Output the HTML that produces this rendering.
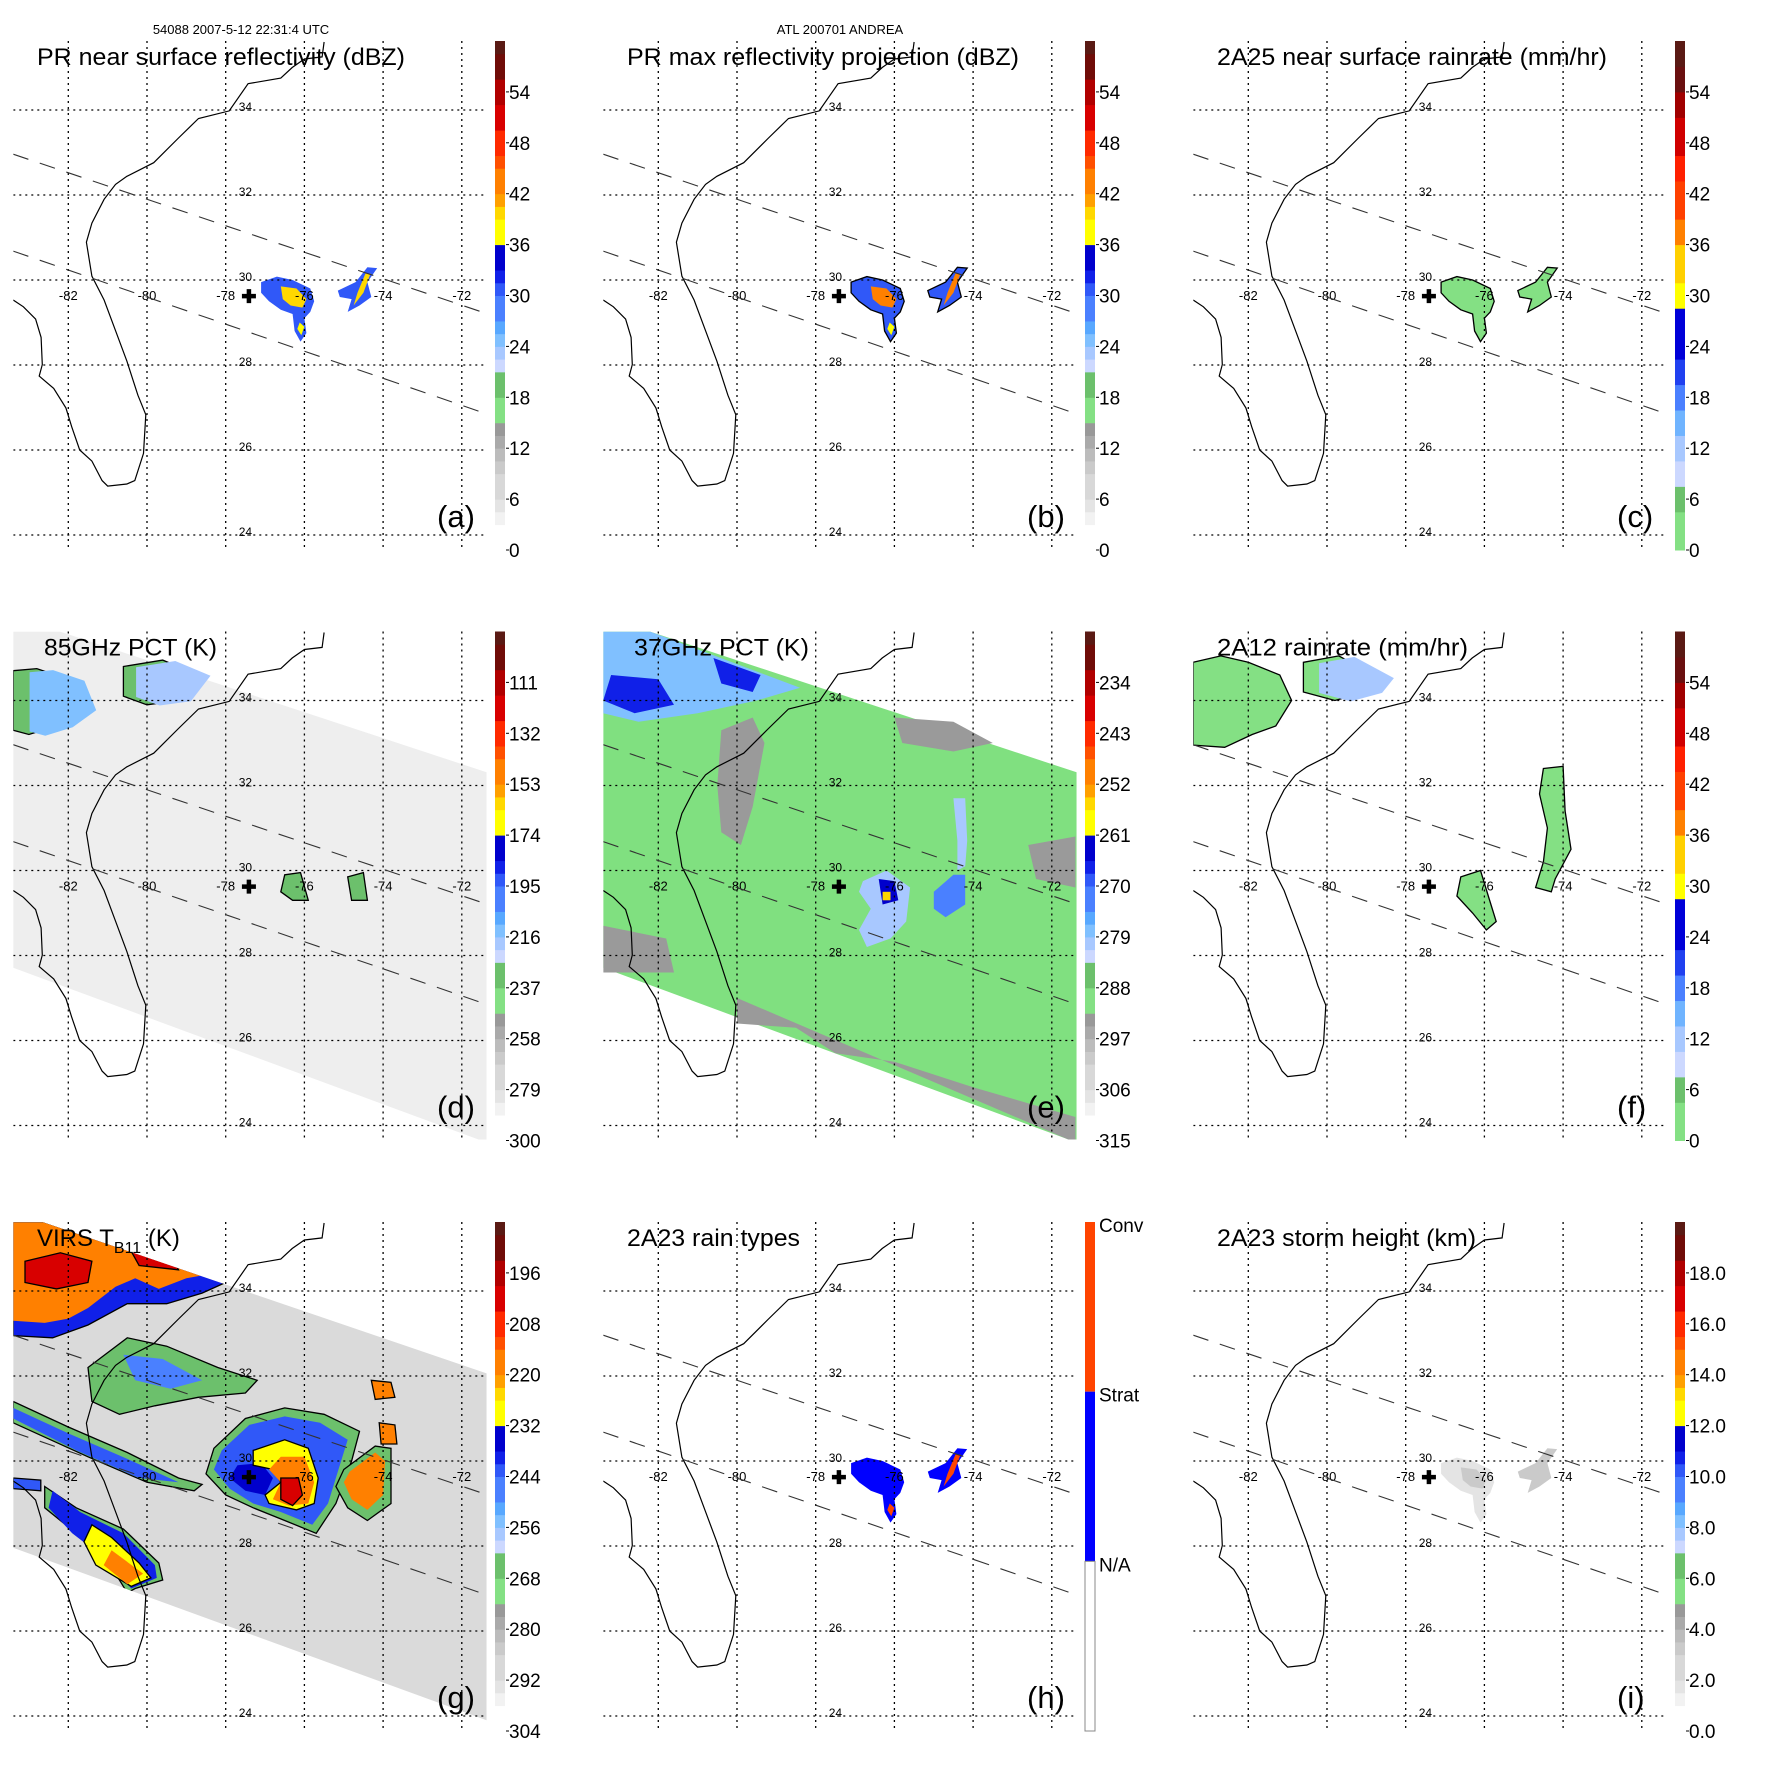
<!DOCTYPE html>
<html><head><meta charset="utf-8">
<style>
html,body{margin:0;padding:0;background:#fff;}
svg{display:block;font-family:"Liberation Sans",Arial,sans-serif;}
</style></head>
<body>
<svg id="chart" width="1771" height="1771" viewBox="0 0 1771 1771" xmlns="http://www.w3.org/2000/svg">
<text x="241" y="34" font-size="13" text-anchor="middle">54088 2007-5-12 22:31:4 UTC</text>
<text x="840" y="34" font-size="13" text-anchor="middle">ATL 200701 ANDREA</text>
</svg>
<script>
// ---- map data (lon/lat) ----
const coastLon=[-75.5,-75.55,-76.0,-76.31,-76.6,-77.43,-77.91,-78.69,-79.2,-79.83,-80.51,-80.8,-81.09,-81.4,-81.54,-81.4,-81.09,-80.8,-80.51,-80.23,-80.03,-80.09,-80.31,-80.51,-81.0,-81.14,-81.4,-81.71,-81.91,-82.06,-82.37,-82.74,-82.66,-82.69,-82.83,-83.14,-83.4];
const coastLat=[35.6,35.25,35.2,35.0,34.75,34.62,33.98,33.8,33.34,32.76,32.44,32.25,31.9,31.34,30.89,30.09,29.53,28.81,28.09,27.29,26.83,25.92,25.28,25.2,25.15,25.28,25.74,26.0,26.54,26.99,27.45,27.74,28.01,28.65,29.08,29.37,29.53];
const prTopLon=[-83.4,-71.37], prTopLat=[32.96,29.21];
const prBotLon=[-83.4,-71.37], prBotLat=[30.68,26.85];
const tmiLon=[-83.4,-82.2,-71.37,-71.37,-83.4], tmiLat=[35.62,35.62,32.31,23.6,27.71];
const irLon=[-83.4,-82.64,-71.37,-71.37,-83.4], irLat=[35.62,35.62,32.06,23.9,27.96];
const centerLon=-77.41, centerLat=29.62;
const gridLons=[-82,-80,-78,-76,-74,-72], gridLats=[24,26,28,30,32,34];
// PR rain cells
const prCell1Lon=[-77.1,-76.7,-76.3,-75.85,-75.75,-75.85,-76.0,-75.95,-76.1,-76.25,-76.3,-76.6,-76.9,-77.1];
const prCell1Lat=[29.95,30.08,30.0,29.8,29.5,29.25,29.1,28.75,28.55,28.8,29.2,29.3,29.5,29.7];
const prCell2Lon=[-75.15,-74.7,-74.4,-74.15,-74.4,-74.3,-74.6,-74.9,-74.8,-75.1];
const prCell2Lat=[29.75,29.95,30.3,30.28,29.95,29.6,29.4,29.25,29.55,29.6];
const prCore1Lon=[-76.6,-76.2,-75.95,-76.05,-76.35,-76.55], prCore1Lat=[29.85,29.8,29.55,29.35,29.4,29.55];
const prTailLon=[-76.12,-76.0,-76.08,-76.18], prTailLat=[29.0,28.9,28.7,28.85];
const prCore2Lon=[-74.45,-74.32,-74.5,-74.75,-74.65], prCore2Lat=[30.15,30.15,29.7,29.4,29.7];
// 85GHz cells
const d1Lon=[-83.4,-82.8,-82.0,-81.7,-82.3,-83.0,-83.4], d1Lat=[34.7,34.75,34.5,33.8,33.4,33.2,33.3];
const d2Lon=[-80.6,-79.6,-78.7,-79.2,-80.0,-80.6], d2Lat=[34.8,34.95,34.6,34.0,33.9,34.1];
const d3Lon=[-76.5,-76.1,-75.9,-76.3,-76.6], d3Lat=[29.9,29.95,29.3,29.3,29.5];
const d4Lon=[-74.9,-74.5,-74.4,-74.8], d4Lat=[29.85,29.95,29.3,29.3];
// 37GHz
const eBlueLon=[-83.4,-82.2,-78.4,-79.5,-81,-82.5,-83.4], eBlueLat=[35.62,35.62,34.3,34.0,33.7,33.5,33.7];
const eDark1Lon=[-83.2,-82.0,-81.6,-82.6,-83.4], eDark1Lat=[34.6,34.5,33.9,33.7,34.0];
const eDark2Lon=[-80.6,-79.4,-79.6,-80.4], eDark2Lat=[35.0,34.6,34.2,34.4];
const eGray1Lon=[-80.4,-79.6,-79.3,-79.6,-79.9,-80.4,-80.5], eGray1Lat=[33.3,33.6,33.0,31.5,30.6,30.9,32.0];
const eGray2Lon=[-76,-74.5,-73.5,-74.5,-75.8], eGray2Lat=[33.6,33.5,33.0,32.8,33.0];
const eGray3Lon=[-80,-78.5,-77.5,-76,-74,-71.4,-71.4,-80], eGray3Lat=[26.4,26.3,25.7,25.5,24.9,24.2,23.6,27.0];
const eGray4Lon=[-83.4,-81.8,-81.6,-83.4], eGray4Lat=[28.7,28.4,27.6,27.6];
const eGray5Lon=[-72.6,-71.4,-71.4,-72.4], eGray5Lat=[30.6,30.8,29.6,29.8];
const eStormLon=[-76.8,-76.2,-75.6,-75.7,-76.1,-76.7,-76.9,-76.6,-76.9], eStormLat=[29.75,30.0,29.6,28.8,28.4,28.2,28.6,29.1,29.5];
const eCoreLon=[-76.4,-76.0,-75.9,-76.3], eCoreLat=[29.8,29.75,29.3,29.2];
const eHotLon=[-76.3,-76.1,-76.1,-76.3], eHotLat=[29.5,29.5,29.3,29.3];
const eCell2Lon=[-75.0,-74.5,-74.2,-74.2,-74.7,-75.0], eCell2Lat=[29.5,29.9,29.9,29.2,28.9,29.1];
const eStreakLon=[-74.5,-74.2,-74.15,-74.2,-74.4,-74.4], eStreakLat=[31.7,31.7,30.7,30.1,30.0,30.7];
// 2A12
const f1Lon=[-83.4,-82.7,-82.0,-81.2,-80.9,-81.3,-81.9,-82.6,-83.4], f1Lat=[34.9,35.05,34.9,34.6,34.0,33.4,33.2,32.9,32.95];
const f2Lon=[-80.6,-79.7,-78.7,-79.0,-79.8,-80.6], f2Lat=[34.9,35.05,34.55,34.2,34.0,34.2];
const f3Lon=[-76.6,-76.1,-75.9,-75.7,-75.95,-76.3,-76.7], f3Lat=[29.85,30.0,29.4,28.8,28.6,29.0,29.4];
const f4Lon=[-74.5,-74.0,-73.95,-73.8,-74.2,-74.3,-74.7,-74.5,-74.4,-74.6], f4Lat=[32.4,32.45,31.4,30.5,29.8,29.5,29.6,30.2,31.0,31.8];
// VIRS IR
const gTopBlueLon=[-83.4,-82.64,-78.0,-78.6,-79.5,-80.5,-81.5,-82.4,-83.4], gTopBlueLat=[35.62,35.62,34.2,33.95,33.7,33.7,33.2,32.9,32.95];
const gTopOrLon=[-83.4,-82.64,-78.5,-79.0,-79.7,-80.3,-80.8,-81.5,-82.0,-82.6,-83.4], gTopOrLat=[35.62,35.62,34.38,34.3,34.05,34.3,34.1,33.6,33.35,33.25,33.3];
const gTopRed1Lon=[-83.1,-82.2,-81.4,-81.5,-82.3,-83.1], gTopRed1Lat=[34.7,34.9,34.7,34.2,34.05,34.2];
const gTopRed2Lon=[-80.5,-79.3,-79.2,-80.2], gTopRed2Lat=[35.1,34.7,34.5,34.6];
const gStreakGLon=[-83.4,-82.0,-80.5,-79.2,-78.6,-78.8,-80.0,-81.5,-83.4], gStreakGLat=[31.4,30.8,30.2,29.6,29.45,29.3,29.5,30.1,30.9];
const gStreakBLon=[-83.4,-82.0,-80.5,-79.2,-80.2,-81.8,-83.4], gStreakBLat=[31.25,30.65,30.05,29.5,29.6,30.25,31.0];
const gNorthLon=[-81.5,-80.5,-79.5,-78.2,-77.2,-77.5,-78.7,-79.8,-80.7,-81.4], gNorthLat=[32.2,32.9,32.7,32.2,31.9,31.6,31.5,31.3,31.1,31.4];
const gNorthBLon=[-80.6,-79.6,-78.6,-79.4,-80.3], gNorthBLat=[32.5,32.4,31.9,31.7,31.9];
const gRingGLon=[-78.3,-77.5,-76.5,-75.5,-74.6,-74.8,-75.2,-75.7,-76.5,-77.3,-78.0,-78.5], gRingGLat=[30.3,31.0,31.25,31.1,30.7,30.0,29.0,28.3,28.6,28.9,29.2,29.7];
const gRingBLon=[-78.1,-77.4,-76.5,-75.6,-74.9,-75.1,-75.4,-75.8,-76.6,-77.3,-77.9,-78.3], gRingBLat=[30.25,30.85,31.05,30.9,30.5,29.9,29.0,28.5,28.8,29.0,29.35,29.8];
const gEyeLon=[-77.7,-77.1,-76.8,-77.0,-77.5,-77.9], gEyeLat=[29.9,29.95,29.6,29.2,29.3,29.6];
const gYelLon=[-77.3,-76.5,-75.9,-75.65,-75.75,-76.2,-76.9,-77.0,-76.6,-76.8,-77.3], gYelLat=[30.25,30.5,30.3,29.6,29.0,28.85,29.0,29.2,29.5,29.8,29.9];
const gOrLon=[-76.6,-76.0,-75.75,-75.9,-76.4,-76.8,-76.6,-76.9], gOrLat=[30.1,30.1,29.5,29.0,28.95,29.1,29.5,29.8];
const gCoreLon=[-76.6,-76.15,-76.05,-76.3,-76.6], gCoreLat=[29.6,29.6,29.2,28.95,29.1];
const gEastGLon=[-75.0,-74.2,-73.8,-73.8,-74.4,-74.9,-75.2], gEastGLat=[29.8,30.35,30.3,29.0,28.6,28.9,29.4];
const gEastOLon=[-74.85,-74.2,-73.95,-74.0,-74.4,-74.8,-75.0], gEastOLat=[29.75,30.2,30.0,29.2,28.85,29.1,29.5];
const gSm1Lon=[-74.3,-73.8,-73.7,-74.2], gSm1Lat=[31.9,31.85,31.5,31.45];
const gSm2Lon=[-74.1,-73.7,-73.65,-74.05], gSm2Lat=[30.9,30.85,30.4,30.4];
const gSwGLon=[-82.6,-81.8,-80.6,-79.7,-79.6,-80.3,-80.5,-81.1,-81.8,-82.6], gSwGLat=[29.4,28.9,28.4,27.6,27.2,27.0,26.9,27.8,28.3,28.9];
const gSwBLon=[-82.4,-81.7,-80.6,-79.8,-79.75,-80.4,-81.2,-81.9,-82.5], gSwBLat=[29.3,28.8,28.3,27.55,27.25,27.0,27.8,28.3,28.9];
const gSwYLon=[-81.4,-80.9,-80.2,-79.9,-80.4,-81.3,-81.6], gSwYLat=[28.5,28.2,27.6,27.25,27.05,27.55,28.1];
const gSwOLon=[-80.9,-80.1,-80.5,-81.1], gSwOLat=[27.9,27.35,27.1,27.55];
const gLeftLon=[-83.4,-82.7,-82.7,-83.4], gLeftLat=[29.6,29.55,29.3,29.35];
// colorbar tick labels
const ticksDbz=['0','6','12','18','24','30','36','42','48','54'];
const ticks85=['300','279','258','237','216','195','174','153','132','111'];
const ticks37=['315','306','297','288','279','270','261','252','243','234'];
const ticksIR=['304','292','280','268','256','244','232','220','208','196'];
const ticksHt=['0.0','2.0','4.0','6.0','8.0','10.0','12.0','14.0','16.0','18.0'];
const rainTypes=['Conv','Strat','N/A'];
// palettes: [value, color]
const palA=[[0,'#ffffff'],[2,'#f2f2f2'],[4,'#e4e4e4'],[6,'#d8d8d8'],[8,'#cacaca'],[10,'#bcbcbc'],[12,'#aaaaaa'],[13.5,'#999999'],[15,'#84e084'],[18,'#6cc06c'],[20.5,'#ccd8ff'],[22,'#a8c8ff'],[24,'#80c0ff'],[25.5,'#58a8ff'],[27,'#4a80ff'],[29,'#3058f8'],[31,'#1020e8'],[33,'#0000cc'],[36,'#ffff00'],[38,'#ffd800'],[40,'#ffa000'],[42,'#ff8000'],[44.5,'#ff5000'],[46.5,'#ff2a00'],[49,'#d80000'],[52,'#b00000'],[55,'#700c08'],[58,'#5a1a14']];
const palC=[[0,'#84e084'],[4,'#6cc06c'],[7.5,'#ccd8ff'],[10,'#a8c8ff'],[13,'#70b4ff'],[16,'#4a80ff'],[19,'#2040f0'],[22,'#0000d8'],[28,'#ffff00'],[31,'#ffd000'],[35,'#ff8000'],[39,'#ff4000'],[43,'#ff2000'],[46,'#d00000'],[50,'#a00000'],[54,'#6a1010'],[57,'#5a1a14']];

const NS='http://www.w3.org/2000/svg';
const svg=document.getElementById('chart');
function mk(tag,attrs,parent){const e=document.createElementNS(NS,tag);for(const k in attrs)e.setAttribute(k,attrs[k]);(parent||svg).appendChild(e);return e;}
function col(pal,v){let c=pal[0][1];for(const s of pal){if(v>=s[0])c=s[1];}return c;}

const panels=[
 {id:'a',c:0,r:0,title:'PR near surface reflectivity (dBZ)',tl:368,pal:palA,ticks:ticksDbz},
 {id:'b',c:1,r:0,title:'PR max reflectivity projection (dBZ)',tl:392,pal:palA,ticks:ticksDbz},
 {id:'c',c:2,r:0,title:'2A25 near surface rainrate (mm/hr)',tl:390,pal:palC,ticks:ticksDbz},
 {id:'d',c:0,r:1,title:'85GHz PCT (K)',tl:173,pal:palA,ticks:ticks85},
 {id:'e',c:1,r:1,title:'37GHz PCT (K)',tl:175,pal:palA,ticks:ticks37},
 {id:'f',c:2,r:1,title:'2A12 rainrate (mm/hr)',tl:251,pal:palC,ticks:ticksDbz},
 {id:'g',c:0,r:2,title:'VIRS',tl:0,pal:palA,ticks:ticksIR},
 {id:'h',c:1,r:2,title:'2A23 rain types',tl:173,pal:null,ticks:null},
 {id:'i',c:2,r:2,title:'2A23 storm height (km)',tl:259,pal:palA,ticks:ticksHt}
];
const LATPX=42.5, MAPTOP=41, MAPBOT=549;

panels.forEach(p=>{
 p.ox=p.c*590; p.oy=p.r*590.5;
 const X=lon=>p.ox+68.3+(lon+82)*39.35;
 const Y=lat=>p.oy+110+(34-lat)*LATPX;
 const pts=(lo,la)=>lo.map((l,i)=>X(l).toFixed(1)+','+Y(la[i]).toFixed(1)).join(' ');
 const g=mk('g',{});
 
 
 const cp=mk('clipPath',{id:'clip'+p.id},g);
 mk('rect',{x:p.ox+13.3,y:p.oy+MAPTOP,width:473.4,height:MAPBOT-MAPTOP},cp);
 const m=mk('g',{'clip-path':'url(#clip'+p.id+')'},g);
 
 
 const poly=(lo,la,fill,stroke,name,parent)=>{const e=mk('polygon',{points:pts(lo,la),fill:fill,stroke:stroke||'none','stroke-width':1.3},parent||m);
  
  return e;};
 const P=p.pal||palA;
 if(p.id==='a'||p.id==='b'){
  const st=p.id==='b'?'#000':'none';
  poly(prCell1Lon,prCell1Lat,col(P,30),st,'rain-cell-west');
  poly(prCell2Lon,prCell2Lat,col(P,29),st,'rain-cell-east');
  poly(prCore1Lon,prCore1Lat,col(P,p.id==='b'?42:38),'none','rain-core-west');
  poly(prTailLon,prTailLat,col(P,37),'none','rain-tail');
  poly(prCore2Lon,prCore2Lat,col(P,p.id==='b'?42:38),'none','rain-core-east');
 }
 if(p.id==='c'){
  poly(prCell1Lon,prCell1Lat,col(P,2),'#000','rain-cell-west');
  poly(prCell2Lon,prCell2Lat,col(P,2),'#000','rain-cell-east');
 }
 if(p.id==='h'){
  poly(prCell1Lon,prCell1Lat,'#0000ff','none','strat-cell-west');
  poly(prCell2Lon,prCell2Lat,'#0000ff','none','strat-cell-east');
  poly(prTailLon,prTailLat,'#ff4400','none','conv-tail');
  poly(prCore2Lon,prCore2Lat,'#ff4400','none','conv-east');
 }
 if(p.id==='i'){
  poly(prCell1Lon,prCell1Lat,col(P,4.5),'none','height-cell-west');
  poly(prCore1Lon,prCore1Lat,col(P,8),'none','height-core-west');
  poly(prCell2Lon,prCell2Lat,col(P,8),'none','height-cell-east');
  poly(prTailLon,prTailLat,col(P,5.5),'none','height-tail');
 }
 if(p.id==='d'){
  poly(tmiLon,tmiLat,'#eeeeee','none','tmi-swath');
  [[d1Lon,d1Lat],[d2Lon,d2Lat],[d3Lon,d3Lat],[d4Lon,d4Lat]].forEach((q,i)=>poly(q[0],q[1],col(P,19),'#000','pct85-cell-'+i));
  poly(d1Lon.map(v=>v*0.995),d1Lat.map(v=>v*0.997+0.07),col(P,24),'none','pct85-core-1');
  poly(d2Lon.map(v=>v*0.996),d2Lat.map(v=>v*0.998+0.05),col(P,23),'none','pct85-core-2');
 }
 if(p.id==='e'){
  poly(tmiLon,tmiLat,'#80e080','none','tmi-swath');
  [[eGray1Lon,eGray1Lat],[eGray2Lon,eGray2Lat],[eGray3Lon,eGray3Lat],[eGray4Lon,eGray4Lat],[eGray5Lon,eGray5Lat]].forEach((q,i)=>poly(q[0],q[1],'#9a9a9a','none','warm-patch-'+i));
  poly(eBlueLon,eBlueLat,col(P,24),'none','cold-region-north');
  poly(eDark1Lon,eDark1Lat,col(P,31),'none','cold-core-north-1');
  poly(eDark2Lon,eDark2Lat,col(P,31),'none','cold-core-north-2');
  poly(eStreakLon,eStreakLat,col(P,23),'none','cold-streak');
  poly(eStormLon,eStormLat,col(P,23),'none','storm-cold');
  poly(eCoreLon,eCoreLat,col(P,33),'none','storm-core');
  poly(eHotLon,eHotLat,col(P,38),'none','storm-hot');
  poly(eCell2Lon,eCell2Lat,col(P,27),'none','cell-east');
 }
 if(p.id==='f'){
  [[f1Lon,f1Lat],[f2Lon,f2Lat],[f3Lon,f3Lat],[f4Lon,f4Lat]].forEach((q,i)=>poly(q[0],q[1],col(P,2),'#000','rain-cell-'+i));
  poly(f2Lon.map(v=>v+0.4),f2Lat.map(v=>v*0.995+0.15),col(P,11),'none','rain-core-north');
 }
 if(p.id==='g'){
  const cp2=mk('clipPath',{id:'sw'+p.id},g);
  mk('polygon',{points:pts(irLon,irLat)},cp2);
  poly(irLon,irLat,'#dadada','none','virs-swath');
  const gg=mk('g',{'clip-path':'url(#sw'+p.id+')'},m);
  
  
  const L=[[gTopBlueLon,gTopBlueLat,31,'#000'],[gTopOrLon,gTopOrLat,43,'none'],[gTopRed1Lon,gTopRed1Lat,49,'#000'],[gTopRed2Lon,gTopRed2Lat,49,'#000'],
   [gStreakGLon,gStreakGLat,19,'#000'],[gStreakBLon,gStreakBLat,29,'none'],[gNorthLon,gNorthLat,19,'#000'],[gNorthBLon,gNorthBLat,27,'none'],
   [gRingGLon,gRingGLat,19,'#000'],[gRingBLon,gRingBLat,30,'none'],[gEyeLon,gEyeLat,33,'none'],[gYelLon,gYelLat,37,'#000'],[gOrLon,gOrLat,43,'none'],[gCoreLon,gCoreLat,49,'#000'],
   [gEastGLon,gEastGLat,19,'#000'],[gEastOLon,gEastOLat,43,'none'],[gSm1Lon,gSm1Lat,43,'#000'],[gSm2Lon,gSm2Lat,43,'#000'],
   [gSwGLon,gSwGLat,19,'#000'],[gSwBLon,gSwBLat,31,'none'],[gSwYLon,gSwYLat,37,'#000'],[gSwOLon,gSwOLat,43,'none'],[gLeftLon,gLeftLat,29,'#000']];
  L.forEach((q,i)=>poly(q[0],q[1],col(P,q[2]),q[3],'cloud-region-'+i,gg));
 }
 const cl=mk('polyline',{points:pts(coastLon,coastLat),fill:'none',stroke:'#000','stroke-width':1.2},m);
 
 
 gridLats.forEach(lat=>{const l=mk('line',{x1:p.ox+13.3,x2:p.ox+486.7,y1:Y(lat),y2:Y(lat),stroke:'#000','stroke-width':1.3,'stroke-dasharray':'2,4'},m);
  
  
  const t=mk('text',{x:X(-78)+13,y:Y(lat)+1,'font-size':12},m);t.textContent=String(lat);
  
  });
 gridLons.forEach(lon=>{const l=mk('line',{x1:X(lon),x2:X(lon),y1:p.oy+MAPTOP,y2:p.oy+MAPBOT,stroke:'#000','stroke-width':1.3,'stroke-dasharray':'2,4'},m);
  
  
  const t=mk('text',{x:X(lon),y:Y(30)+20,'font-size':13,'text-anchor':'middle'},m);t.textContent=String(lon);
  
  });
 [[prTopLon,prTopLat],[prBotLon,prBotLat]].forEach(q=>{const l=mk('line',{x1:X(q[0][0]),y1:Y(q[1][0]),x2:X(q[0][1]),y2:Y(q[1][1]),stroke:'#333','stroke-width':1.1,'stroke-dasharray':'16,12'},m);
  
  });
 const cx=X(centerLon), cy=Y(centerLat);
 const cr=mk('path',{d:`M${cx-7},${cy}H${cx+7}M${cx},${cy-7}V${cy+7}`,stroke:'#000','stroke-width':4.5},m);
 
 
 let tt;
 if(p.id==='g'){tt=mk('text',{x:p.ox+37,y:p.oy+65,'font-size':24},g);
  tt.innerHTML='VIRS T<tspan font-size="16" dy="7">B11</tspan><tspan dy="-7"> (K)</tspan>';}
 else{tt=mk('text',{x:p.ox+(p.r===1&&p.c<2?44:37),y:p.oy+65,'font-size':24,textLength:p.tl,lengthAdjust:'spacingAndGlyphs'},g);tt.textContent=p.title;}
 
 
 const lt=mk('text',{x:p.ox+437,y:p.oy+527,'font-size':31},g);lt.textContent='('+p.id+')';
 
 
 const bx=p.ox+495, bw=10, by0=p.oy+550, step=50.9, unit=step/6;
 const cb=mk('g',{},g);
 
 
 if(p.pal){
  for(let v=0;v<60;v+=1.5){const r=mk('rect',{x:bx,y:by0-(v+1.5)*unit,width:bw,height:1.5*unit+0.5,fill:col(p.pal,v+0.1)},cb);
   
   }
  p.ticks.forEach((s,i)=>{const y=by0-i*step;
   const t=mk('text',{x:bx+14,y:y+7,'font-size':19},cb);t.textContent=s;
   
   
   mk('line',{x1:bx+bw+1,x2:bx+bw+4,y1:y,y2:y,stroke:'#000','stroke-width':1},cb);});
 } else {
  const h=(by0-(p.oy+MAPTOP))/3, cols=['#ff4400','#0000ff','#ffffff'];
  rainTypes.forEach((s,i)=>{const r=mk('rect',{x:bx,y:p.oy+MAPTOP+i*h,width:bw,height:h,fill:cols[i],stroke:i===2?'#888':'none'},cb);
   
   
   const t=mk('text',{x:bx+14,y:p.oy+MAPTOP+i*h+10,'font-size':19},cb);t.textContent=s;
   
   });
 }
});
</script>
</body></html>
